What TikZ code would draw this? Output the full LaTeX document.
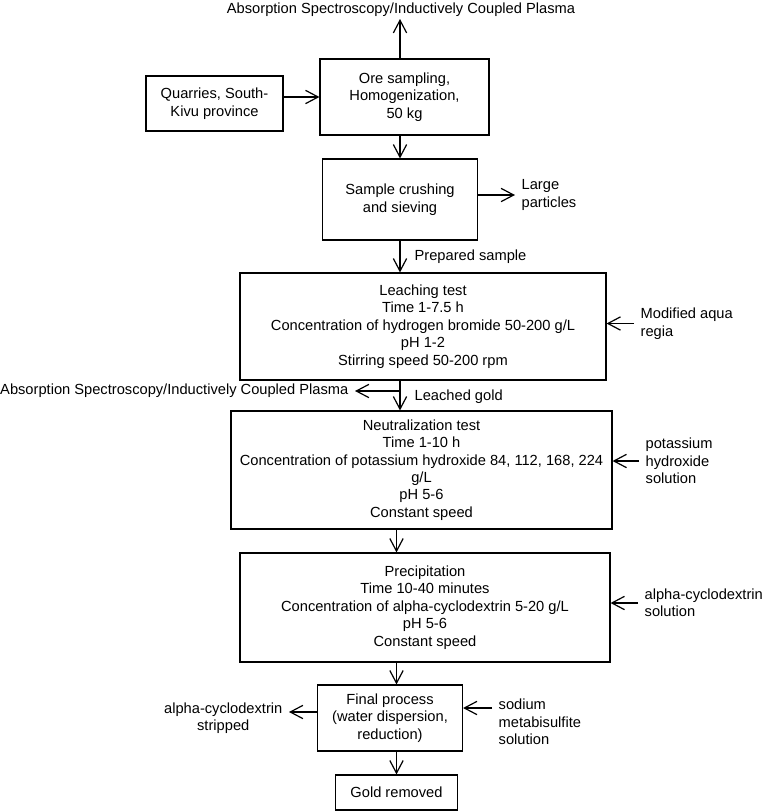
\documentclass[tikz,border=0pt]{standalone}
\usepackage{fontspec}
\setmainfont{Liberation Sans}
\usetikzlibrary{arrows.meta}

\begin{document}
\begin{tikzpicture}[x=0.75pt,y=-0.75pt,
	font=\fontsize{11}{13.1}\selectfont,
	>={Straight Barb[length=9.5pt,width=10pt]},
	stage/.style={draw,line width=0.85pt,align=center,inner sep=2pt},
	lbl/.style={inner sep=0pt,outer sep=5pt,align=left},
	flow/.style={->,line width=0.9pt}]
	\useasboundingbox (0,0) rectangle (762,811);
	% process boxes
	\node[stage,minimum width=102.75pt,minimum height=41.25pt] (quarry) at (214.5,103.5) {Quarries, South-\\Kivu province};
	\node[stage,minimum width=126.75pt,minimum height=57pt] (ore) at (404.5,97) {Ore sampling,\\Homogenization,\\50 kg};
	\node[stage,minimum width=116.25pt,minimum height=60.75pt] (crush) at (400,199.5) {Sample crushing\\and sieving};
	\node[stage,minimum width=274.5pt,minimum height=80.25pt] (leach) at (423,326.5) {Leaching test\\Time 1-7.5 h\\Concentration of hydrogen bromide 50-200 g/L\\pH 1-2\\Stirring speed 50-200 rpm};
	\node[stage,minimum width=285.75pt,minimum height=88.5pt] (neut) at (421.5,470) {Neutralization test\\Time 1-10 h\\Concentration of potassium hydroxide 84, 112, 168, 224\\g/L\\pH 5-6\\Constant speed};
	\node[stage,minimum width=277.5pt,minimum height=81.75pt] (precip) at (425,607.5) {Precipitation\\Time 10-40 minutes\\Concentration of alpha-cyclodextrin 5-20 g/L\\pH 5-6\\Constant speed};
	\node[stage,minimum width=108.75pt,minimum height=49.5pt] (final) at (390,718) {Final process\\(water dispersion,\\reduction)};
	\node[stage,minimum width=91.5pt,minimum height=26.25pt] (gold) at (396.5,792.5) {Gold removed};
	% side streams
	\node[lbl,anchor=south] (aas1) at (401,23) {Absorption Spectroscopy/Inductively Coupled Plasma};
	\node[lbl,anchor=west] (large) at (515,195) {Large\\particles};
	\node[lbl,anchor=west] (prep) at (408,257) {Prepared sample};
	\node[lbl,anchor=west] (aqua) at (634,323.5) {Modified aqua\\regia};
	\node[lbl,anchor=east] (aas2) at (355,391) {Absorption Spectroscopy/Inductively Coupled Plasma};
	\node[lbl,anchor=west] (leached) at (408,397) {Leached gold};
	\node[lbl,anchor=west] (koh) at (639,461) {potassium\\hydroxide\\solution};
	\node[lbl,anchor=west] (acd) at (638,603) {alpha-cyclodextrin\\solution};
	\node[lbl,anchor=west] (nams) at (492,722) {sodium\\metabisulfite\\solution};
	\node[lbl,anchor=east,align=center] (strip) at (289,718) {alpha-cyclodextrin\\stripped};
	\coordinate (split) at (400,391);
	% connectors
	\draw[flow,shorten >=-3pt] (ore.north -| crush) -- (aas1.south -| crush);
	\draw[flow] (quarry.east |- ore) -- (ore.west);
	\draw[flow] (ore.south -| crush) -- (crush.north);
	\draw[flow] (crush.east |- large) -- (large);
	\draw[flow] (crush.south) -- (crush.south |- leach.north);
	\draw[flow] (aqua) -- (aqua -| leach.east);
	\draw[flow] (leach.south -| crush) -- (neut.north -| crush);
	\draw[flow] (split) -- (aas2);
	\draw[flow] (koh) -- (koh -| neut.east);
	\draw[flow] (neut.south -| gold) -- (precip.north -| gold);
	\draw[flow] (acd) -- (acd -| precip.east);
	\draw[flow] (precip.south -| gold) -- (final.north -| gold);
	\draw[flow] ([yshift=10.5pt]nams.west) -- ([yshift=7.5pt]final.east);
	\draw[flow] ([yshift=4.5pt]final.west) -- ([yshift=4.5pt]strip.east);
	\draw[flow] (final.south -| gold) -- (gold.north);
\end{tikzpicture}
\end{document}
